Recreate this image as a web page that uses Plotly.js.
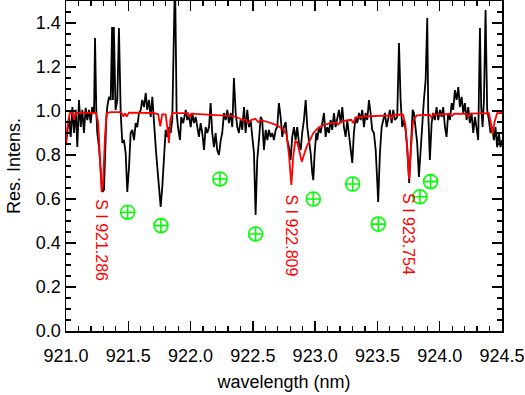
<!DOCTYPE html>
<html>
<head>
<meta charset="utf-8">
<script src="https://cdn.plot.ly/plotly-3.0.1.min.js"></script>
<style>html,body{margin:0;padding:0;background:#fff;}#chart{width:525px;height:395px;}</style>
</head>
<body>
<div id="chart"></div>
<script>
// Observed spectrum (wavelength nm, residual intensity)
const obsWave = [921.000,921.024,921.038,921.051,921.064,921.078,921.091,921.104,921.118,921.131,921.144,921.158,921.171,921.185,921.198,921.211,921.225,921.233,921.243,921.251,921.265,921.278,921.291,921.305,921.313,921.323,921.331,921.345,921.359,921.370,921.377,921.384,921.398,921.412,921.425,921.439,921.452,921.465,921.479,921.492,921.506,921.519,921.532,921.546,921.559,921.572,921.586,921.600,921.612,921.626,921.640,921.652,921.666,921.680,921.693,921.706,921.720,921.733,921.746,921.760,921.773,921.787,921.800,921.813,921.827,921.840,921.853,921.875,921.888,921.899,921.915,921.925,921.941,921.961,921.974,921.987,922.001,922.014,922.027,922.041,922.054,922.067,922.081,922.094,922.108,922.121,922.134,922.148,922.161,922.174,922.188,922.201,922.214,922.228,922.242,922.254,922.268,922.282,922.295,922.308,922.322,922.335,922.348,922.362,922.375,922.388,922.402,922.415,922.429,922.442,922.455,922.469,922.482,922.495,922.509,922.522,922.535,922.549,922.563,922.575,922.589,922.603,922.616,922.629,922.643,922.656,922.669,922.683,922.696,922.709,922.723,922.736,922.749,922.763,922.776,922.790,922.803,922.816,922.830,922.843,922.856,922.870,922.884,922.896,922.910,922.924,922.937,922.950,922.964,922.977,922.985,922.996,923.009,923.017,923.031,923.044,923.057,923.071,923.084,923.097,923.111,923.124,923.137,923.151,923.164,923.177,923.191,923.205,923.218,923.231,923.245,923.258,923.271,923.285,923.298,923.311,923.325,923.338,923.352,923.365,923.378,923.392,923.405,923.418,923.432,923.445,923.458,923.472,923.486,923.498,923.506,923.520,923.534,923.547,923.560,923.574,923.587,923.600,923.614,923.627,923.640,923.659,923.673,923.686,923.699,923.713,923.726,923.739,923.755,923.771,923.783,923.793,923.807,923.819,923.833,923.847,923.860,923.873,923.887,923.900,923.908,923.921,923.935,923.948,923.961,923.975,923.988,924.002,924.015,924.028,924.042,924.055,924.068,924.082,924.096,924.108,924.122,924.136,924.149,924.162,924.176,924.189,924.202,924.216,924.229,924.242,924.256,924.269,924.283,924.296,924.309,924.323,924.333,924.344,924.355,924.368,924.381,924.395,924.408,924.421,924.435,924.448,924.461,924.475,924.488,924.501];
const obsFlux = [0.850,0.973,0.882,1.018,0.900,1.005,0.836,1.050,0.927,1.005,0.900,1.014,0.959,1.005,0.945,1.018,0.991,1.332,1.005,0.900,0.836,0.718,0.632,0.641,0.823,0.959,1.018,1.064,1.050,1.382,1.050,1.382,1.005,1.050,1.377,0.991,0.855,0.868,0.809,0.632,0.745,0.900,0.914,0.868,0.945,0.927,0.991,1.005,1.050,1.018,1.082,1.005,1.050,0.973,1.064,0.927,0.836,0.745,0.655,0.564,0.655,0.809,0.914,0.882,0.927,0.900,0.959,1.620,0.991,0.927,0.868,0.973,0.945,1.005,0.959,0.982,0.927,0.991,0.945,0.973,0.914,0.882,0.945,0.900,0.823,0.927,0.900,0.927,1.036,0.900,0.836,0.900,0.823,0.800,0.868,0.900,0.991,0.959,1.005,0.945,0.991,0.927,1.150,0.991,0.927,0.900,0.959,0.914,1.018,0.900,1.005,0.927,0.959,0.868,0.809,0.527,0.777,0.868,0.973,0.959,0.823,0.914,0.868,0.914,0.882,0.900,0.868,0.914,0.927,1.036,0.973,0.882,0.927,0.950,0.868,0.836,0.777,0.882,0.927,0.868,0.927,0.855,0.823,0.900,0.959,1.050,0.927,0.868,0.809,0.718,0.686,0.809,0.900,0.868,0.927,0.900,0.945,0.991,0.882,0.927,0.900,0.959,0.914,0.991,0.927,0.959,1.005,0.945,1.018,0.927,0.882,0.959,0.900,0.836,0.764,0.900,0.973,0.945,0.991,0.959,1.005,0.927,0.991,0.959,1.050,0.991,0.914,0.900,0.823,0.686,0.586,0.809,0.927,0.959,0.991,0.927,0.973,1.005,0.945,1.005,0.959,0.973,1.309,1.050,0.927,0.959,0.914,0.836,0.673,0.868,1.005,0.991,0.927,0.855,0.700,0.836,0.973,1.050,1.141,1.423,0.991,0.777,0.945,0.991,0.959,1.018,0.959,1.005,0.973,1.018,0.927,0.882,0.991,0.959,1.036,1.005,1.095,1.050,1.109,1.018,1.064,0.991,1.036,0.959,1.018,0.945,0.991,0.900,0.973,0.927,0.868,1.377,1.018,0.927,1.050,1.459,1.005,0.959,0.900,0.927,0.868,0.927,0.836,0.900,0.836,0.868];

// Model spectrum
const modWave = [921.000,921.008,921.030,921.048,921.064,921.080,921.110,921.160,921.240,921.258,921.272,921.286,921.299,921.313,921.327,921.360,921.440,921.462,921.472,921.488,921.505,921.700,921.740,921.757,921.772,921.800,921.812,921.826,921.838,921.852,921.980,921.992,922.005,922.100,922.200,922.340,922.400,922.420,922.440,922.463,922.490,922.520,922.543,922.565,922.620,922.690,922.740,922.770,922.790,922.809,922.825,922.840,922.855,922.875,922.893,922.910,922.932,922.960,922.985,923.010,923.040,923.080,923.130,923.170,923.186,923.200,923.260,923.290,923.306,923.325,923.400,923.470,923.600,923.614,923.630,923.705,923.725,923.740,923.754,923.768,923.785,923.795,923.815,923.920,923.935,923.950,924.080,924.100,924.115,924.215,924.229,924.245,924.395,924.410,924.424,924.440,924.461,924.500];
const modFlux = [0.845,0.914,0.991,0.993,0.960,0.991,0.993,0.991,0.991,0.950,0.790,0.633,0.690,0.886,0.990,0.995,0.995,0.975,0.990,0.975,0.993,0.991,0.985,0.930,0.985,0.985,0.930,0.855,0.960,0.990,0.990,0.970,0.988,0.985,0.980,0.977,0.965,0.958,0.962,0.945,0.960,0.965,0.950,0.958,0.950,0.936,0.918,0.895,0.800,0.664,0.800,0.862,0.860,0.815,0.770,0.800,0.838,0.870,0.899,0.915,0.929,0.939,0.945,0.948,0.938,0.950,0.959,0.960,0.945,0.970,0.975,0.977,0.980,0.967,0.982,0.984,0.935,0.820,0.690,0.820,0.945,0.965,0.980,0.983,0.970,0.985,0.986,0.978,0.988,0.987,0.972,0.988,0.990,0.950,0.895,0.950,0.990,0.991];

// Marked features (green symbols)
const markWave = [921.495,921.762,922.236,922.522,922.985,923.301,923.507,923.841,923.927];
const markFlux = [0.540,0.479,0.691,0.441,0.600,0.668,0.486,0.610,0.679];

// S I line identifications
const lineWave = [921.286,922.809,923.754];
const lineLabelY = [0.610,0.628,0.636];
const lineElement = "S I";

// Axis ticks
const xTicks = [921.0,921.5,922.0,922.5,923.0,923.5,924.0,924.5];
const yTicks = [0.0,0.2,0.4,0.6,0.8,1.0,1.2,1.4];

const FONT = '"Liberation Sans", Arial, Helvetica, sans-serif';

const traces = [
  {x: obsWave, y: obsFlux, type: 'scatter', mode: 'lines',
   line: {color: '#000000', width: 1.8}, hoverinfo: 'skip'},
  {x: modWave, y: modFlux, type: 'scatter', mode: 'lines',
   line: {color: '#ff0000', width: 1.8}, hoverinfo: 'skip'},
  {x: markWave, y: markFlux, type: 'scatter', mode: 'markers',
   marker: {symbol: 'circle-cross-open', size: 14, color: '#00ff00', line: {width: 1.6, color: '#00ff00'}},
   hoverinfo: 'skip'}
];

const annotations = lineWave.map((w, i) => ({
  x: w, y: lineLabelY[i], xref: 'x', yref: 'y',
  text: lineElement + ' ' + w.toFixed(3),
  textangle: 90, showarrow: false,
  xanchor: 'center', yanchor: 'top',
  font: {family: FONT, size: 16, color: '#ff0000'}
}));

const axisCommon = {
  showgrid: false, zeroline: false,
  showline: true, linecolor: '#000000', linewidth: 1.5,
  mirror: 'allticks', ticks: 'inside', ticklen: 10, tickwidth: 1.3, tickcolor: '#000000',
  tickfont: {family: FONT, size: 18, color: '#000000'},
  tickformat: '.1f'
};

const layout = {
  width: 525, height: 395,
  margin: {l: 66, r: 23, t: 1, b: 64},
  paper_bgcolor: '#ffffff', plot_bgcolor: '#ffffff',
  showlegend: false,
  xaxis: Object.assign({}, axisCommon, {
    range: [921.0, 924.5], tickmode: 'array', tickvals: xTicks,
    ticklabelstandoff: 8,
    minor: {dtick: 0.1, ticks: 'inside', ticklen: 5, tickwidth: 1.2, tickcolor: '#000000'},
    title: {text: 'wavelength (nm)', font: {family: FONT, size: 18, color: '#000000'}, standoff: 10}
  }),
  yaxis: Object.assign({}, axisCommon, {
    range: [0, 1.5], tickmode: 'array', tickvals: yTicks,
    minor: {dtick: 0.05, ticks: 'inside', ticklen: 5, tickwidth: 1.2, tickcolor: '#000000'},
    title: {text: 'Res. Intens.', font: {family: FONT, size: 18, color: '#000000'}, standoff: 10}
  }),
  annotations: annotations,
  font: {family: FONT, color: '#000000'}
};

Plotly.newPlot('chart', traces, layout, {staticPlot: true, displayModeBar: false});
</script>
</body>
</html>
